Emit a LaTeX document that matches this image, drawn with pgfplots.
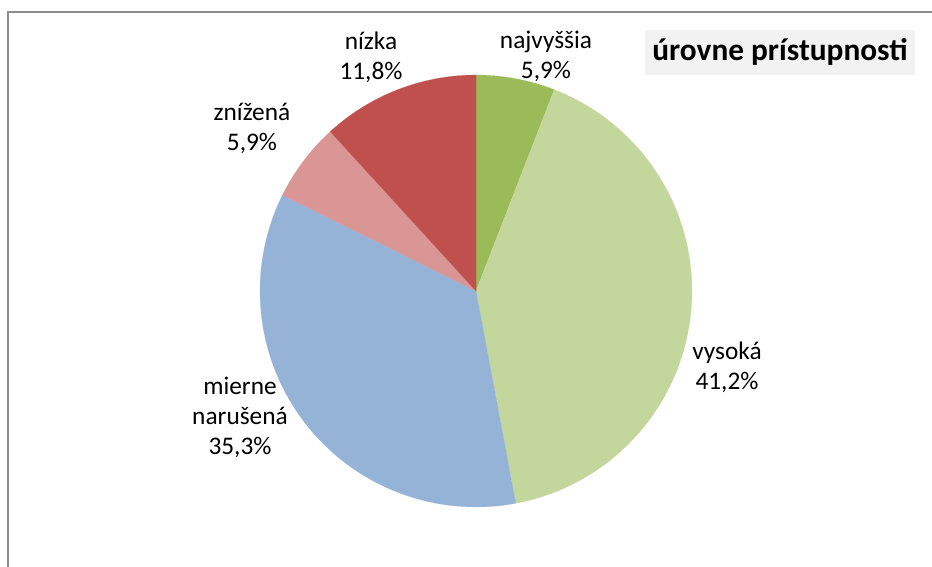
\documentclass[border=0pt]{standalone}
\usepackage{pgfplots}
\pgfplotsset{compat=1.18}
\usepackage{fontspec}
\setmainfont{Carlito}
\definecolor{cA}{HTML}{9BBB59}
\definecolor{cB}{HTML}{C3D69B}
\definecolor{cC}{HTML}{95B3D7}
\definecolor{cD}{HTML}{D99694}
\definecolor{cE}{HTML}{C0504D}
\definecolor{frame}{HTML}{8C8C8C}
\definecolor{titlebg}{HTML}{F2F2F2}
% shares (percent), clockwise from 12 o'clock
\def\vA{5.9}\def\vB{41.2}\def\vC{35.3}\def\vD{5.9}\def\vE{11.8}
\def\tot{100.1}
\pgfmathsetmacro{\kk}{360/\tot}
\pgfmathsetmacro{\angA}{90}
\pgfmathsetmacro{\angB}{90-\kk*(\vA)}
\pgfmathsetmacro{\angC}{90-\kk*(\vA+\vB)}
\pgfmathsetmacro{\angD}{90-\kk*(\vA+\vB+\vC)}
\pgfmathsetmacro{\angE}{90-\kk*(\vA+\vB+\vC+\vD)}
\pgfmathsetmacro{\angF}{90-\kk*(\vA+\vB+\vC+\vD+\vE)}
\begin{document}
\begin{tikzpicture}
\begin{scope}[x=0.75pt,y=0.75pt]
\path[use as bounding box] (0,0) rectangle (932,567);
\draw[frame,line width=1.5] (8,0) -- (8,555) -- (932,555);
\end{scope}
\begin{axis}[at={(357pt,207pt)},anchor=center,
  width=324pt,height=324pt,scale only axis,hide axis,
  xmin=-1,xmax=1,ymin=-1,ymax=1,clip=false]
\addplot[fill=cA,draw=cA,line width=0.1pt,domain=\angB:\angA,samples=20] ({cos(x)},{sin(x)}) -- (axis cs:0,0) -- cycle;
\addplot[fill=cB,draw=cB,line width=0.1pt,domain=\angC:\angB,samples=100] ({cos(x)},{sin(x)}) -- (axis cs:0,0) -- cycle;
\addplot[fill=cC,draw=cC,line width=0.1pt,domain=\angD:\angC,samples=100] ({cos(x)},{sin(x)}) -- (axis cs:0,0) -- cycle;
\addplot[fill=cD,draw=cD,line width=0.1pt,domain=\angE:\angD,samples=20] ({cos(x)},{sin(x)}) -- (axis cs:0,0) -- cycle;
\addplot[fill=cE,draw=cE,line width=0.1pt,domain=\angF:\angE,samples=40] ({cos(x)},{sin(x)}) -- (axis cs:0,0) -- cycle;
\end{axis}
\begin{scope}[x=0.75pt,y=0.75pt,every node/.style={align=center,inner sep=0pt,font=\fontsize{19}{22.5}\selectfont}]
\node at (546,511) {najvyššia\\5,9\%};
\node at (727,200) {vysoká\\41,2\%};
\node at (240,150) {mierne\\narušená\\35,3\%};
\node at (252,439) {znížená\\5,9\%};
\node at (371,510) {nízka\\11,8\%};
\end{scope}
\node[fill=titlebg,minimum width=202.5pt,minimum height=33.75pt,inner sep=0pt,
  font=\fontsize{23.5}{26}\selectfont\bfseries] at (585pt,386pt) {úrovne prístupnosti};
\end{tikzpicture}
\end{document}
